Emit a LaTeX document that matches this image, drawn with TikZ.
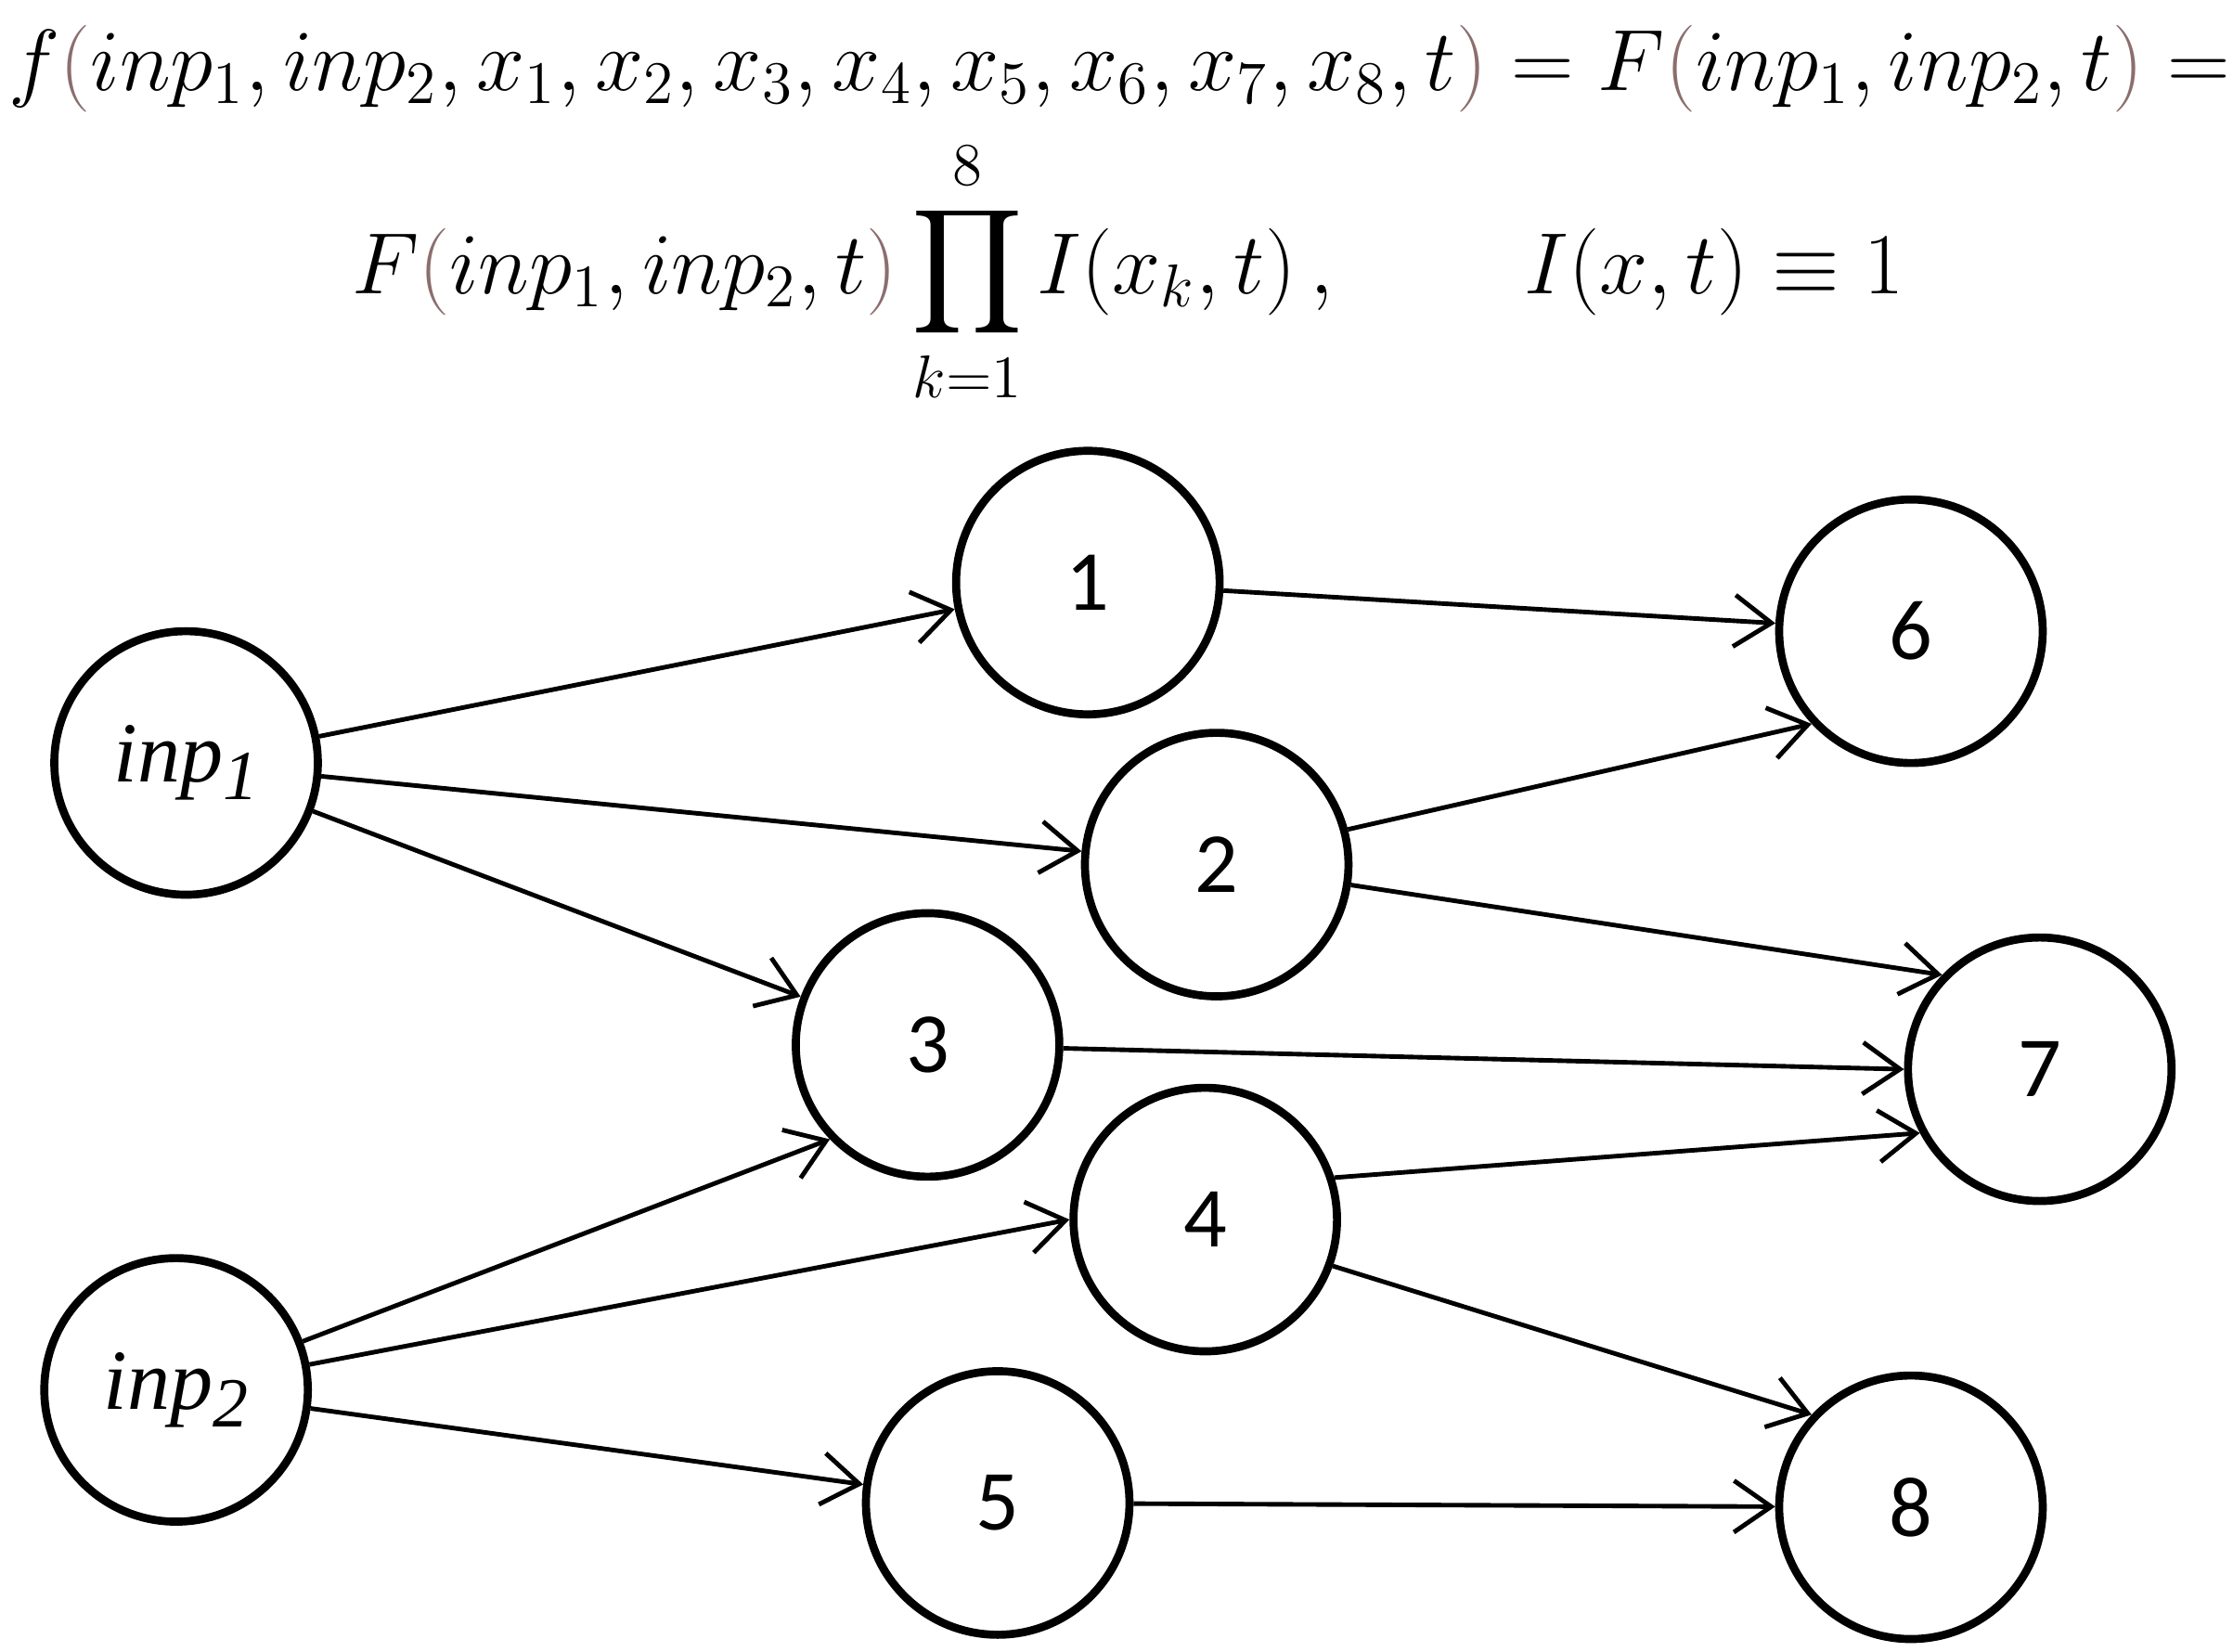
\documentclass[tikz,border=0pt]{standalone}
\usepackage{amsmath}
\usepackage{fontspec}
\setmainfont{Carlito}
\newfontfamily\tms{Liberation Serif}
\usetikzlibrary{arrows.meta}
\definecolor{par}{RGB}{140,110,110}
\newcommand{\lp}{\textcolor{par}{(}}
\newcommand{\rp}{\textcolor{par}{)}}
\newcommand{\inpl}[1]{{\tms\itshape inp\raisebox{-0.45ex}{\fontsize{14}{16}\selectfont #1}}}
\begin{document}
\begin{tikzpicture}[x=0.01cm,y=-0.01cm,
  st/.style={circle,draw,line width=1.6pt,minimum size=1.84cm,inner sep=0pt,font=\fontsize{17}{20}\selectfont},
  ed/.style={line width=0.9pt,-{Straight Barb[length=2.6mm,width=3.6mm]}}]
\useasboundingbox (0,0) rectangle (1560,1154);
\node (eq1) at (782,48) {\fontsize{17.5}{21}\selectfont $f\lp inp_1,inp_2,x_1,x_2,x_3,x_4,x_5,x_6,x_7,x_8,t\rp = F\lp inp_1,inp_2,t\rp =$};
\node (eq2) at (788,190) {\fontsize{17.5}{21}\selectfont $\displaystyle F\lp inp_1,inp_2,t\rp \prod_{k=1}^{8} I(x_k,t)\,,\qquad I(x,t)\equiv 1$};
\node[st] (i1) at (130,533) {\inpl{1}};
\node[st] (i2) at (123,971) {\inpl{2}};
\node[st] (n1) at (760,407) {1};
\node[st] (n2) at (850,604) {2};
\node[st] (n3) at (648,730) {3};
\node[st] (n4) at (842,852) {4};
\node[st] (n5) at (697,1050) {5};
\node[st] (n6) at (1335,441) {6};
\node[st] (n7) at (1425,747) {7};
\node[st] (n8) at (1335,1053) {8};
\draw[ed] (i1) -- (n1);
\draw[ed] (i1) -- (n2);
\draw[ed] (i1) -- (n3);
\draw[ed] (i2) -- (n3.224);
\draw[ed] (i2) -- (n4.180);
\draw[ed] (i2) -- (n5);
\draw[ed] (n1) -- (n6);
\draw[ed] (n2.15) -- (n6.223);
\draw[ed] (n2) -- (n7.136);
\draw[ed] (n3) -- (n7.180);
\draw[ed] (n4.18) -- (n7.208);
\draw[ed] (n4.-20) -- (n8.137);
\draw[ed] (n5) -- (n8);
\end{tikzpicture}
\end{document}
